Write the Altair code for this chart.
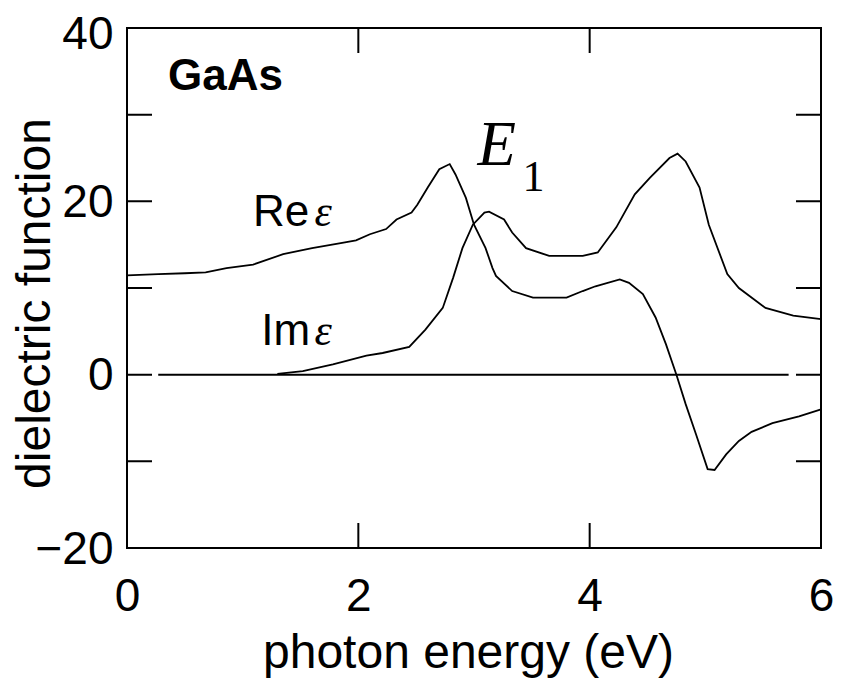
import altair as alt
import pandas as pd

# Re epsilon
re_x = [0.00, 0.27, 0.50, 0.68, 0.86, 1.09, 1.35, 1.60, 1.86, 1.98, 2.10, 2.24, 2.33, 2.46, 2.51,
        2.60, 2.70, 2.79, 2.84, 2.93, 3.00, 3.10, 3.16, 3.19, 3.33, 3.51, 3.80, 3.94, 4.05, 4.26,
        4.34, 4.46, 4.57, 4.66, 4.75, 4.83, 4.92, 5.02, 5.08, 5.18, 5.29, 5.40, 5.58, 5.81, 6.00]
re_y = [11.45, 11.6, 11.7, 11.8, 12.3, 12.7, 13.9, 14.6, 15.2, 15.5, 16.2, 16.8, 17.9, 18.7, 19.6,
        21.6, 23.7, 24.3, 23.1, 20.4, 17.3, 14.6, 12.3, 11.4, 9.65, 8.9, 8.9, 9.65, 10.2, 11.0,
        10.6, 9.3, 6.6, 3.5, 0.0, -3.4, -6.9, -10.9, -11.0, -9.2, -7.65, -6.6, -5.6, -4.8, -4.0]

# Im epsilon
im_x = [1.30, 1.52, 1.78, 2.07, 2.21, 2.44, 2.58, 2.73, 2.82, 2.90, 2.99, 3.09, 3.13, 3.26, 3.33,
        3.45, 3.65, 3.94, 4.07, 4.23, 4.39, 4.52, 4.69, 4.76, 4.83, 4.95, 5.03, 5.19, 5.29, 5.52,
        5.76, 6.00]
im_y = [0.1, 0.4, 1.2, 2.2, 2.5, 3.2, 5.2, 7.7, 11.2, 14.6, 17.3, 18.7, 18.8, 17.9, 16.4,
        14.6, 13.7, 13.7, 14.1, 17.0, 20.8, 22.7, 25.0, 25.5, 24.6, 21.6, 17.3, 11.6, 10.0, 7.7,
        6.8, 6.4]

zero_x = [0.27, 5.72]
zero_y = [0, 0]

x_label_vals = [0, 2, 4, 6]
y_label_vals = [-20, 0, 20, 40]
x_tick_vals = [2, 4]
y_tick_vals = [-10, 0, 10, 20, 30]

curves = pd.concat([
    pd.DataFrame({"x": re_x, "y": re_y, "s": "Re"}),
    pd.DataFrame({"x": im_x, "y": im_y, "s": "Im"}),
])
zero_df = pd.DataFrame({"x": zero_x, "y": zero_y})
xt_df = pd.DataFrame({"x": x_tick_vals * 2, "y": [-20] * len(x_tick_vals) + [40] * len(x_tick_vals)})
yt_df = pd.DataFrame({"x": [0] * len(y_tick_vals) + [6] * len(y_tick_vals), "y": y_tick_vals * 2})

gaas_df = pd.DataFrame({"x": [0.355], "y": [32.8], "t": ["GaAs"]})
reim_df = pd.DataFrame({"x": [1.09, 1.16], "y": [17.1, 3.46], "t": ["Re", "Im"]})
eps_df = pd.DataFrame({"x": [1.62, 1.62], "y": [17.1, 3.46], "t": ["ε", "ε"]})
e_df = pd.DataFrame({"x": [3.03], "y": [24.2], "t": ["E"]})
one_df = pd.DataFrame({"x": [3.42], "y": [21.2], "t": ["1"]})

xs = alt.Scale(domain=[0, 6], nice=False, zero=False)
ys = alt.Scale(domain=[-20, 40], nice=False, zero=False)

xaxis = alt.Axis(values=x_label_vals, title="photon energy (eV)", domain=False, ticks=False,
                 tickSize=0, grid=False, labelFontSize=46, labelPadding=26, labelFlush=False,
                 labelOverlap=False, labelColor="black", titleColor="black",
                 titleFontSize=48, titleFontWeight="normal", titleX=341, titleY=119,
                 titleBaseline="alphabetic", titleAlign="center")
yaxis = alt.Axis(values=y_label_vals, title="dielectric function", domain=False, ticks=False,
                 tickSize=0, grid=False, labelFontSize=46, labelPadding=14, labelFlush=False,
                 labelOverlap=False, labelColor="black", titleColor="black",
                 labelOffset={"condition": {"test": "datum.value == 40", "value": 6}, "value": 1},
                 titleFontSize=48, titleFontWeight="normal", titleAngle=270, titleX=-78,
                 titleY=275, titleBaseline="alphabetic", titleAlign="center")

X = alt.X("x:Q", scale=xs, axis=xaxis)
Y = alt.Y("y:Q", scale=ys, axis=yaxis)

lines = alt.Chart(curves).mark_line(color="black", strokeWidth=1.8).encode(
    x=X, y=Y, detail="s:N")

zero = alt.Chart(zero_df).mark_line(color="black", strokeWidth=2).encode(x=X, y=Y)

xticks = alt.Chart(xt_df).mark_tick(orient="vertical", size=50, thickness=2, color="black",
                                    clip=True, opacity=1).encode(x=X, y=Y)
yticks = alt.Chart(yt_df).mark_tick(orient="horizontal", size=50, thickness=2, color="black",
                                    clip=True, opacity=1).encode(x=X, y=Y)

def txt(df, **kw):
    return alt.Chart(df).mark_text(align="left", baseline="alphabetic", color="black", **kw).encode(
        x=X, y=Y, text="t:N")

gaas = txt(gaas_df, font="Liberation Sans", fontSize=44, fontWeight="bold")
reim = txt(reim_df, font="Liberation Sans", fontSize=44)
eps = txt(eps_df, font="Liberation Serif", fontSize=44, fontStyle="italic")
e1 = txt(e_df, font="Liberation Serif", fontSize=63, fontStyle="italic")
one = txt(one_df, font="Liberation Serif", fontSize=44)

chart = alt.layer(lines, zero, xticks, yticks, gaas, reim, eps, e1, one).properties(
    width=694, height=520,
    autosize=alt.AutoSizeParams(type="none"),
    padding={"left": 119, "top": 20, "right": 12, "bottom": 130},
    background="white",
).configure(font="Liberation Sans", view=alt.ViewConfig(stroke="black", strokeWidth=2))

chart.save("out.html", embed_options={"renderer": "svg", "actions": False})
